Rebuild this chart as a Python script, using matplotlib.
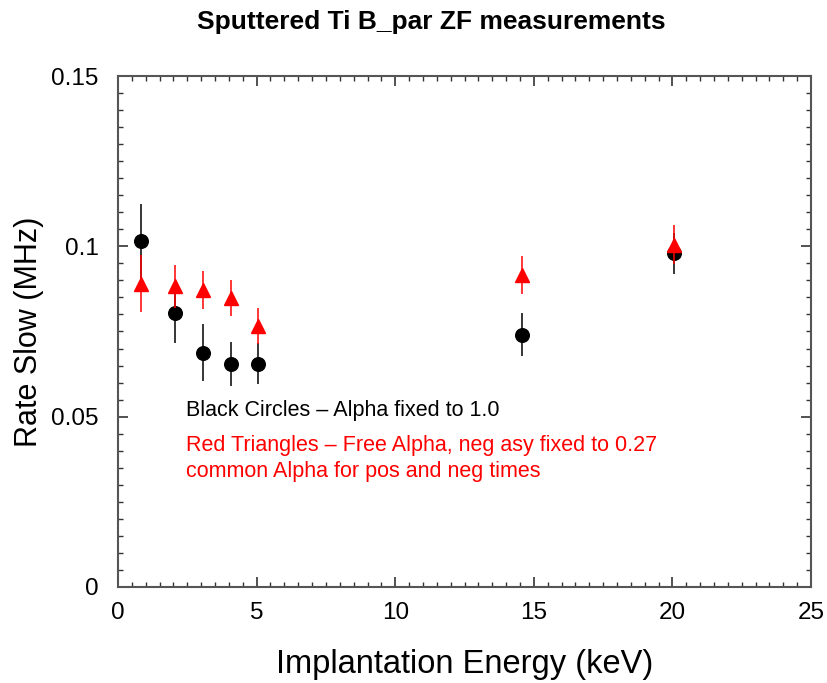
import matplotlib.pyplot as plt
from matplotlib.ticker import MultipleLocator, FuncFormatter

plt.rcParams['font.family'] = ['Liberation Sans', 'DejaVu Sans']

# Black circles - Alpha fixed to 1.0
energia_circ = [0.83, 2.06, 3.06, 4.08, 5.05, 14.56, 20.06]
taxa_circ = [0.1015, 0.0805, 0.0688, 0.0655, 0.0655, 0.0740, 0.0980]
erro_circ = [0.0110, 0.0090, 0.0083, 0.0064, 0.0060, 0.0063, 0.0060]

# Red triangles - Free Alpha
energia_tri = [0.83, 2.06, 3.06, 4.08, 5.05, 14.56, 20.06]
taxa_tri = [0.0890, 0.0883, 0.0872, 0.0848, 0.0766, 0.0916, 0.1005]
erro_tri = [0.0084, 0.0063, 0.0057, 0.0053, 0.0052, 0.0056, 0.0058]

fig = plt.figure(figsize=(8.27, 6.83), dpi=100)
ax = fig.add_axes([0.1427, 0.1406, 0.838, 0.7481])

ax.errorbar(energia_circ, taxa_circ, yerr=erro_circ, fmt='o', color='black',
            ms=9.8, elinewidth=1.1, capsize=0, zorder=3)
ax.errorbar(energia_tri, taxa_tri, yerr=erro_tri, fmt='^', color='red',
            ms=10.5, elinewidth=1.1, capsize=0, zorder=4)

ax.set_xlim(0, 25)
ax.set_ylim(0, 0.15)
ax.xaxis.set_major_locator(MultipleLocator(5))
ax.xaxis.set_minor_locator(MultipleLocator(0.5))
ax.yaxis.set_major_locator(MultipleLocator(0.05))
ax.yaxis.set_minor_locator(MultipleLocator(0.005))
ax.yaxis.set_major_formatter(FuncFormatter(lambda v, p: '0' if v == 0 else f'{v:g}'))

ax.tick_params(which='both', direction='in', top=True, right=True, colors='#333333')
ax.tick_params(which='major', length=7, width=1.2, labelsize=17.5, labelcolor='black')
ax.tick_params(which='minor', length=3.5, width=1.0)
ax.tick_params(axis='y', which='major', pad=14)
ax.tick_params(axis='x', which='major', pad=11)
for s in ax.spines.values():
    s.set_color('#555555')
    s.set_linewidth(1.5)

ax.set_xlabel('Implantation Energy (keV)', fontsize=23.5, labelpad=18)
ax.set_ylabel('Rate Slow (MHz)', fontsize=22, labelpad=5)
fig.text(431.5 / 827, 1 - 22 / 683, 'Sputtered Ti B_par ZF measurements',
         fontsize=19, fontweight='bold', ha='center', va='center')

ax.text(2.45, 0.0502, 'Black Circles \u2013 Alpha fixed to 1.0', fontsize=15.5, color='black')
ax.text(2.45, 0.0399, 'Red Triangles \u2013 Free Alpha, neg asy fixed to 0.27', fontsize=15.5, color='red')
ax.text(2.45, 0.0322, 'common Alpha for pos and neg times', fontsize=15.5, color='red')

plt.savefig('out.png', dpi=100)
